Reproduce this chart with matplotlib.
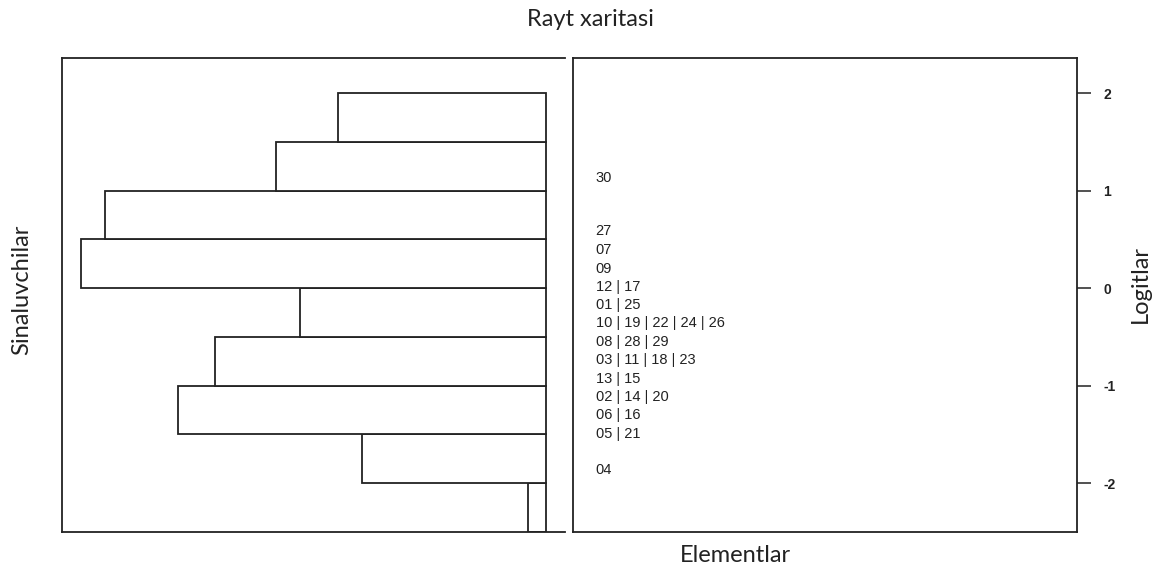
"""Wright map: person histogram + item locations
"""
import numpy as np
import matplotlib
matplotlib.use('Agg')
import matplotlib.pyplot as plt

# person ability histogram (bins of 0.5 logit), counts
bin_edges = [-2.5, -2.0, -1.5, -1.0, -0.5, 0.0, 0.5, 1.0, 1.5, 2.0]
person_counts = [1.0, 9.9, 19.8, 17.8, 13.2, 25.0, 23.7, 14.5, 11.2]

# item difficulties (grouped labels share one location)
item_labels = ['30', '27', '07', '09', '12 | 17', '01 | 25',
	'10 | 19 | 22 | 24 | 26', '08 | 28 | 29', '03 | 11 | 18 | 23',
	'13 | 15', '02 | 14 | 20', '06 | 16', '05 | 21', '04']
item_logits = [1.13, 0.585, 0.39, 0.195, 0.01, -0.175, -0.36, -0.555,
	-0.74, -0.935, -1.12, -1.305, -1.495, -1.865]

logit_ticks = [-2, -1, 0, 1, 2]
y_lims = (-2.5, 2.36)

W, H = 1157, 569
fig = plt.figure(figsize=(W/100, H/100), dpi=100)

ax1 = fig.add_axes([62/W, 37/H, 503/W, 474/H])
ax2 = fig.add_axes([573/W, 37/H, 504/W, 474/H])

lw = 1.3
edge = '#222222'

# left panel: horizontal histogram growing to the left
ax1.barh(bin_edges[:-1], person_counts, height=np.diff(bin_edges), align='edge',
	facecolor='white', edgecolor=edge, linewidth=lw)
ax1.set_xlim(max(person_counts)*1.04, -max(person_counts)*0.04)
ax1.set_ylim(*y_lims)
ax1.set_xticks([])
ax1.set_yticks([])
ax1.spines['right'].set_visible(False)
for s in ['top', 'left', 'bottom']:
	ax1.spines[s].set_linewidth(lw)
	ax1.spines[s].set_color(edge)

# right panel: item labels at their logit positions
for lab, y in zip(item_labels, item_logits):
	ax2.text(0.045, y, lab, transform=ax2.get_yaxis_transform(),
		ha='left', va='center', fontsize=10.5, family='Liberation Sans', color='#222222')
ax2.set_xlim(0, 1)
ax2.set_ylim(*y_lims)
ax2.set_xticks([])
ax2.yaxis.tick_right()
ax2.set_yticks(logit_ticks)
ax2.set_yticklabels([str(t) for t in logit_ticks], fontsize=10, fontweight='bold',
	family='Liberation Sans')
ax2.tick_params(axis='y', direction='out', length=10, width=1.1, pad=9, colors='#222222')
for s in ax2.spines.values():
	s.set_linewidth(lw)
	s.set_color(edge)

fig.text(590/W, 1 - 20/H, 'Rayt xaritasi', ha='center', va='center', fontsize=17,
	family='Lato', color='#222222')
fig.text(22/W, 1 - 290/H, 'Sinaluvchilar', ha='center', va='center', rotation=90,
	fontsize=17, family='Lato', color='#222222')
fig.text(735/W, 1 - 555/H, 'Elementlar', ha='center', va='center', fontsize=17,
	family='Lato', color='#222222')
fig.text(1140/W, 1 - 284/H, 'Logitlar', ha='center', va='center', rotation=90,
	fontsize=17, family='Lato', color='#222222')

plt.savefig('out.png', dpi=100)
plt.close()
